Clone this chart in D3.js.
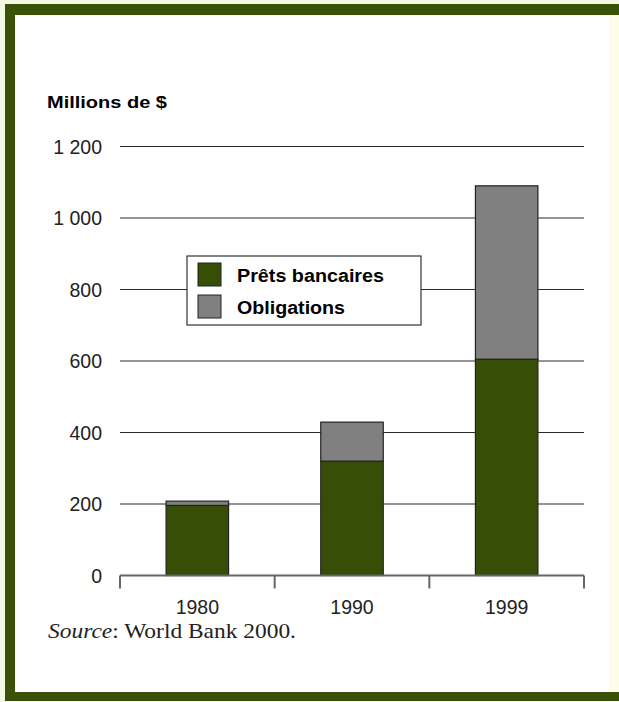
<!DOCTYPE html>
<html>
<head>
<meta charset="utf-8">
<script src="https://cdn.jsdelivr.net/npm/d3@7"></script>
<style>
  html, body { margin: 0; padding: 0; background: #f4f7e2; }
  svg { display: block; }
</style>
</head>
<body>
<svg id="chart" width="619" height="702"></svg>
<script>
// Financement extérieur : prêts bancaires et obligations (millions de $)
const years = ["1980", "1990", "1999"];
const bankLoans = [196, 320, 605];
const bonds = [12, 109, 485];
const seriesNames = ["Prêts bancaires", "Obligations"];
const yTickValues = [0, 200, 400, 600, 800, 1000, 1200];
const yTickLabels = ["0", "200", "400", "600", "800", "1 000", "1 200"];

const green = "#364e05";
const gray = "#808080";
const frame = "#3a5108";

const svg = d3.select("#chart");

// Cadre vert et fond
svg.append("rect").attr("x", 5).attr("y", 4).attr("width", 614).attr("height", 697).attr("fill", frame);
svg.append("rect").attr("x", 15).attr("y", 15).attr("width", 604).attr("height", 677).attr("fill", "#ffffff");
svg.append("rect").attr("x", 609).attr("y", 15).attr("width", 10).attr("height", 677).attr("fill", "#fcfde8");

const rows = years.map((y, i) => ({ year: y, bank: bankLoans[i], bonds: bonds[i] }));
const stacked = d3.stack().keys(["bank", "bonds"])(rows);

const x = d3.scaleBand().domain(years).range([120, 584]).paddingInner(0.596).paddingOuter(0.298);
const y = d3.scaleLinear().domain([0, 1200]).range([575.5, 146.5]);

// Titre de l'axe
svg.append("text")
  .attr("x", 47).attr("y", 108)
  .attr("font-family", "Liberation Sans, Arial, sans-serif")
  .attr("font-weight", "bold").attr("font-size", 17)
  .attr("textLength", 120).attr("lengthAdjust", "spacingAndGlyphs")
  .attr("fill", "#000")
  .text("Millions de $");

// Lignes de quadrillage
svg.append("g").selectAll("line")
  .data(yTickValues.filter(v => v > 0))
  .join("line")
  .attr("x1", 120).attr("x2", 584)
  .attr("y1", d => y(d)).attr("y2", d => y(d))
  .attr("stroke", "#2a2a2a").attr("stroke-width", 1.2);

// Étiquettes de l'axe vertical
svg.append("g").selectAll("text")
  .data(yTickValues)
  .join("text")
  .attr("x", 102).attr("y", d => y(d)).attr("dy", "0.36em")
  .attr("text-anchor", "end")
  .attr("font-family", "Liberation Sans, Arial, sans-serif")
  .attr("font-size", 19.5).attr("fill", "#222")
  .text((d, i) => yTickLabels[i]);

// Barres empilées
const colors = { bank: green, bonds: gray };
svg.append("g").selectAll("g")
  .data(stacked)
  .join("g")
  .attr("fill", d => colors[d.key])
  .selectAll("rect")
  .data(d => d)
  .join("rect")
  .attr("x", d => x(d.data.year))
  .attr("width", x.bandwidth())
  .attr("y", d => y(d[1]))
  .attr("height", d => y(d[0]) - y(d[1]))
  .attr("stroke", "#222").attr("stroke-width", 1.2);

// Axe horizontal
const xAxisG = svg.append("g").attr("transform", `translate(0,${y(0)})`);
xAxisG.append("line").attr("x1", 120).attr("x2", 584).attr("y1", 0).attr("y2", 0)
  .attr("stroke", "#666").attr("stroke-width", 2);
const step = x.step();
const bounds = d3.range(years.length + 1).map(i => x.range()[0] + i * step);
xAxisG.selectAll("line.tick")
  .data(bounds)
  .join("line").attr("class", "tick")
  .attr("x1", d => d).attr("x2", d => d).attr("y1", 0).attr("y2", 13)
  .attr("stroke", "#666").attr("stroke-width", 2);
xAxisG.selectAll("text")
  .data(years)
  .join("text")
  .attr("x", d => x(d) + x.bandwidth() / 2).attr("y", 38)
  .attr("text-anchor", "middle")
  .attr("font-family", "Liberation Sans, Arial, sans-serif")
  .attr("font-size", 19.5).attr("fill", "#222")
  .text(d => d);

// Légende
const legend = svg.append("g");
legend.append("rect").attr("x", 187).attr("y", 256).attr("width", 234).attr("height", 69)
  .attr("fill", "#fff").attr("stroke", "#333").attr("stroke-width", 1.2);
const legendColors = [green, gray];
const legendWidths = [147, 108];
seriesNames.forEach((name, i) => {
  legend.append("rect").attr("x", 198).attr("y", 263 + i * 32).attr("width", 23).attr("height", 23)
    .attr("fill", legendColors[i]).attr("stroke", "#222").attr("stroke-width", 1);
  legend.append("text").attr("x", 237).attr("y", 282 + i * 32)
    .attr("font-family", "Liberation Sans, Arial, sans-serif")
    .attr("font-weight", "bold").attr("font-size", 18).attr("fill", "#000")
    .attr("textLength", legendWidths[i]).attr("lengthAdjust", "spacingAndGlyphs")
    .text(name);
});

// Source
const src = svg.append("text").attr("x", 48).attr("y", 638)
  .attr("font-family", "Liberation Serif, Times New Roman, serif")
  .attr("font-size", 22).attr("fill", "#222")
  .attr("textLength", 248).attr("lengthAdjust", "spacingAndGlyphs");
src.append("tspan").attr("font-style", "italic").text("Source");
src.append("tspan").text(": World Bank 2000.");
</script>
</body>
</html>
